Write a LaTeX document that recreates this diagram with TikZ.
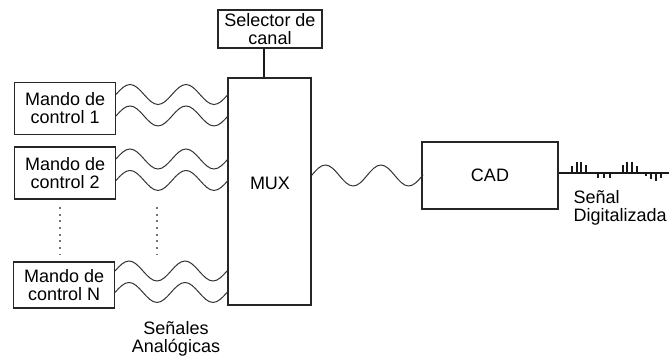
\documentclass[tikz,border=0pt]{standalone}
\usepackage{fontspec}
\setmainfont{Liberation Sans}
\usetikzlibrary{positioning}

\begin{document}
\begin{tikzpicture}[x=0.75pt,y=-0.75pt,
  every node/.style={font=\fontsize{13.5}{13.5}\selectfont,inner sep=0pt},
  box/.style={rectangle,draw=black!85,line width=0.8pt,align=center},
  mando/.style={box,minimum width=75.5pt,minimum height=39pt},
  wave/.style={draw=black!80,line width=0.75pt},
  tick/.style={draw=black!90,line width=0.8pt},
  dots/.style={draw=black!55,line width=1.5pt,dash pattern=on 1.5pt off 3.5pt}]
\useasboundingbox (0,0) rectangle (669,359);

% control inputs
\node[mando,anchor=east] (m1) at (116,108.5) {Mando de\\control 1};
\node[mando,anchor=east] (m2) at (116,173) {Mando de\\control 2};
\node[mando,anchor=east,minimum height=34.5pt] (mN) at (115,285) {Mando de\\control N};

% multiplexer and selector
\node[box,minimum width=62.25pt,minimum height=170.25pt] (mux) at (269.5,191.5) {};
\node (muxlbl) at (270,183) {MUX};
\node[box,minimum width=78pt,minimum height=28.5pt] (sel) at (270,29) {Selector de\\canal};
\draw[tick] ([xshift=-4.5pt]sel.south) -- ([xshift=-4.5pt]sel.south |- mux.north);

% converter
\node[box,minimum width=102pt,minimum height=50.25pt] (cad) at (490,175.5) {CAD};

% analog signals
\foreach \m in {m1,m2,mN}{
  \draw[wave] ([yshift=10.5pt]\m.east) coordinate (s)
    \foreach \i in {1,2}{sin ++(14,-10) cos ++(14,10) sin ++(14,10) cos ++(14,-10)}
    -- (s -| mux.west);
  \draw[wave] ([yshift=-5.6pt]\m.east) coordinate (s)
    \foreach \i in {1,2}{sin ++(14,-10) cos ++(14,10) sin ++(14,10) cos ++(14,-10)}
    -- (s -| mux.west);
}
\draw[dots] (59.5,207) -- (59.5,254);
\draw[dots] (156.5,207) -- (156.5,254);

\draw[wave] (mux.east |- cad.west)
  \foreach \i in {1,2}{sin ++(13.875,-10.5) cos ++(13.875,10.5) sin ++(13.875,10.5) cos ++(13.875,-10.5)}
  -- (cad.west);

% digital output
\coordinate (dend) at (669,173);
\draw[tick] (cad.east |- dend) -- (dend);
\foreach \x/\h in {572/-7,577/-10.5,581/-10.5,586/-8,598/5,604/5,610/5,
                   623/-8,627/-10.5,632/-10.5,637/-7,646/3.5,651/6.5,656/8.5,661/5}
  \draw[tick] (\x,173) -- ++(0,\h);

\node[align=center] (anlbl) at (176,339) {Señales\\Analógicas};
\node[align=left,anchor=east] (diglbl) at (667,208) {Señal\\Digitalizada};
\end{tikzpicture}
\end{document}
